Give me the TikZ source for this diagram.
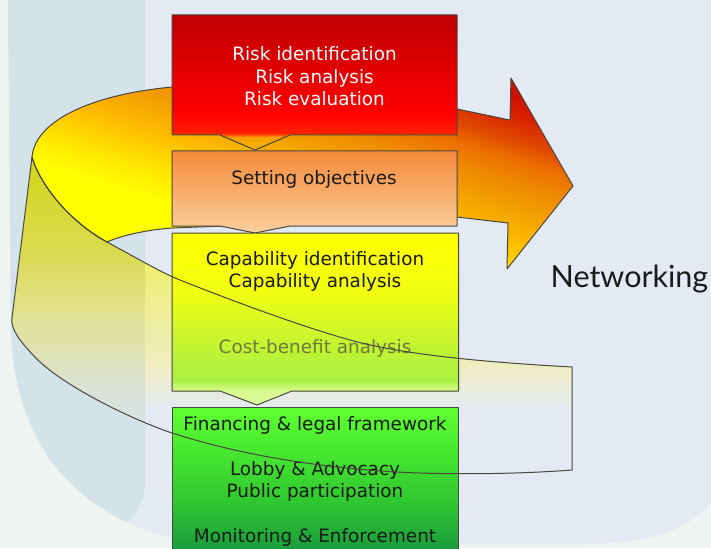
\documentclass[tikz,border=0pt]{standalone}
\usepackage{fontspec}
\setmainfont{DejaVu Sans}
\newfontfamily\netfont{Lato}
\definecolor{pagebg}{HTML}{EEF4F1}
\definecolor{mainbg}{HTML}{E3EAF4}
\definecolor{bandbg}{HTML}{D4E2EA}
\definecolor{edge}{HTML}{4A4640}
\definecolor{txtdark}{HTML}{1A1A1A}
\definecolor{txtfade}{HTML}{707A3C}
% box 1 (red)
\definecolor{rA}{HTML}{F6B400}
\definecolor{rB}{HTML}{F8A000}
\definecolor{rC}{HTML}{FF2000}
\definecolor{rD}{HTML}{FF0000}
\definecolor{rE}{HTML}{BE0000}
% box 2 (orange)
\definecolor{oA}{HTML}{FAD4A4}
\definecolor{oB}{HTML}{F9CA94}
\definecolor{oC}{HTML}{F68A3A}
% box 3 (yellow)
\definecolor{yA}{HTML}{E0F8A0}
\definecolor{yB}{HTML}{D8F890}
\definecolor{yC}{HTML}{A8F040}
\definecolor{yD}{HTML}{C8F530}
\definecolor{yE}{HTML}{F2FF10}
\definecolor{yF}{HTML}{FFFF00}
% box 4 (green)
\definecolor{gA}{HTML}{189838}
\definecolor{gB}{HTML}{1A9E3C}
\definecolor{gC}{HTML}{30C830}
\definecolor{gD}{HTML}{48E830}
\definecolor{gE}{HTML}{5EFF30}
% lower band
\definecolor{ldA}{HTML}{D4E2EA}
\definecolor{ldB}{HTML}{DCE2D0}
\definecolor{ldC}{HTML}{E2E28E}
\definecolor{ldD}{HTML}{DADA50}
\definecolor{ldE}{HTML}{D4D418}
\definecolor{llA}{HTML}{E3EAF4}
\definecolor{llB}{HTML}{EAECD8}
\definecolor{llC}{HTML}{EFEDC2}
\definecolor{llD}{HTML}{EEEE98}
\definecolor{llE}{HTML}{EEEE60}
\definecolor{llF}{HTML}{F2F220}
% top band
\definecolor{tA}{HTML}{FFFF00}
\definecolor{tB}{HTML}{FFE000}
\definecolor{tC}{HTML}{FFC000}
\definecolor{tD}{HTML}{F5A500}
\definecolor{tE}{HTML}{EE8A00}
\definecolor{tF}{HTML}{EC7000}
\definecolor{tG}{HTML}{E04800}
\definecolor{tH}{HTML}{D82000}
\definecolor{tI}{HTML}{CE1000}

\pgfdeclareverticalshading{boxred}{100bp}{color(0bp)=(rA); color(25bp)=(rA); color(29.8bp)=(rB); color(31.3bp)=(rC); color(38bp)=(rD); color(75bp)=(rE); color(100bp)=(rE)}
\pgfdeclareverticalshading{boxorange}{100bp}{color(0bp)=(oA); color(25bp)=(oA); color(29.3bp)=(oB); color(75bp)=(oC); color(100bp)=(oC)}
\pgfdeclareverticalshading{boxyellow}{100bp}{color(0bp)=(yA); color(25bp)=(yA); color(29.1bp)=(yB); color(32.3bp)=(yC); color(43.9bp)=(yD); color(58.4bp)=(yE); color(75bp)=(yF); color(100bp)=(yF)}
\pgfdeclareverticalshading{boxgreen}{100bp}{color(0bp)=(gA); color(25bp)=(gA); color(28.9bp)=(gB); color(44.6bp)=(gC); color(61bp)=(gD); color(75bp)=(gE); color(100bp)=(gE)}
\pgfdeclareverticalshading{lbdark}{100bp}{color(0bp)=(ldA); color(31.9bp)=(ldA); color(39.8bp)=(ldB); color(50.9bp)=(ldC); color(60.3bp)=(ldD); color(75bp)=(ldE); color(100bp)=(ldE)}
\pgfdeclareverticalshading{lblight}{100bp}{color(0bp)=(llA); color(35.1bp)=(llA); color(39bp)=(llB); color(41.9bp)=(llC); color(50.9bp)=(llD); color(60.3bp)=(llE); color(75bp)=(llF); color(100bp)=(llF)}
\pgfdeclareverticalshading{topband}{800bp}{color(0bp)=(tA); color(120bp)=(tA); color(155bp)=(tB); color(180bp)=(tC); color(210bp)=(tD); color(240bp)=(tE); color(262bp)=(tF); color(282bp)=(tG); color(306bp)=(tH); color(325bp)=(tI); color(400bp)=(tI)}

\begin{document}
\begin{tikzpicture}[x=1pt,y=-1pt,
  outl/.style={draw=edge, line width=1pt, line join=round},
  boxtxt/.style={anchor=base, inner sep=0pt, font=\fontsize{18.4}{22}\selectfont, text=txtdark},
  whitetxt/.style={boxtxt, text=white},
  mainshape/.style={insert path={(8,-2) -- (713,-2) -- (713,500) .. controls (690,530) and (650,544) .. (580,544) -- (230,544) .. controls (190,544) and (150,535) .. (125,521) .. controls (60,490) and (14,430) .. (11,330) -- cycle}},
  upperedge/.style={insert path={(32,157) .. controls (40,185) and (70,222) .. (107,242) .. controls (135,257) and (160,272) .. (180,280) .. controls (230,300) and (300,326) .. (350,340) .. controls (400,354) and (480,362) .. (572,367)}},
  loweredge/.style={insert path={.. controls (520,474) and (450,475) .. (397,472) .. controls (330,468) and (250,458) .. (172,433) .. controls (133,420) and (60,385) .. (33,355) .. controls (21,342) and (10.5,330) .. (12,318)}},
  toppart/.style={insert path={(32,157) .. controls (35,122) and (88,95) .. (172,87) -- (457,109) -- (510,120) -- (511,78) -- (573,186) -- (507,269) -- (508,223) -- (457,217) -- (172,228) .. controls (145,230) and (120,236) .. (107,242) .. controls (70,222) and (40,185) .. (32,157) -- cycle}}
  ]
\useasboundingbox (0,0) rectangle (711,548);
\clip (0,0) rectangle (711,548);
% background
\fill[pagebg] (0,0) rectangle (711,548);
\fill[mainbg][mainshape];
\begin{scope}
  \clip[mainshape];
  \fill[bandbg] (0,-2) -- (145,-2) -- (145,480) .. controls (145,500) and (139,512) .. (127,522) -- (0,560) -- cycle;
\end{scope}
% lower (back) ribbon fill
\begin{scope}
  \clip[upperedge] -- (572,470) [loweredge] -- cycle;
  \shade[shading=lbdark] (0,157) rectangle (145,474);
  \shade[shading=lblight] (145,157) rectangle (711,474);
\end{scope}
% top ribbon with arrow head
\begin{scope}
  \clip[toppart];
  \node[rotate=-17, inner sep=0pt, outer sep=0pt] (topshade) at (300,160) {\pgfuseshading{topband}};
\end{scope}
\draw[outl][toppart];
% boxes
\shadedraw[shading=boxred, outl] (172,15) -- (457,15) -- (457,135) -- (290,135) -- (255,150) -- (220,135) -- (172,135) -- cycle;
\shadedraw[shading=boxorange, outl] (172,151) -- (457,151) -- (457,226) -- (290,226) -- (255,233) -- (220,226) -- (172,226) -- cycle;
\shadedraw[shading=boxyellow, outl] (172,233) -- (458.5,233) -- (458.5,391) -- (292,391) -- (257,405) -- (220,391) -- (172,391) -- cycle;
\shadedraw[shading=boxgreen, outl] (172,407) -- (458.5,407) -- (458.5,560) -- (172,560) -- cycle;
% texts
\node[whitetxt] (r1) at (314.5,61) {Risk identification};
\node[whitetxt] (r2) at (314.5,83.5) {Risk analysis};
\node[whitetxt] (r3) at (314.5,106) {Risk evaluation};
\node[boxtxt] (s1) at (314,184) {Setting objectives};
\node[boxtxt] (c1) at (315,265) {Capability identification};
\node[boxtxt] (c2) at (315,287.5) {Capability analysis};
\node[boxtxt, text=txtfade] (c3) at (315,353) {Cost-benefit analysis};
\node[boxtxt] (f1) at (315,430) {Financing \& legal framework};
\node[boxtxt] (f2) at (315,475) {Lobby \& Advocacy};
\node[boxtxt] (f3) at (315,497) {Public participation};
\node[boxtxt] (f4) at (315,542) {Monitoring \& Enforcement};
% lower ribbon outline (in front of the boxes)
\draw[outl][upperedge] -- (572,470) [loweredge] -- cycle;
% label
\node[anchor=base, inner sep=0pt, text=txtdark, font=\netfont\fontsize{30.5}{36}\selectfont] (net) at (629.5,287) {Networking};
\end{tikzpicture}
\end{document}
